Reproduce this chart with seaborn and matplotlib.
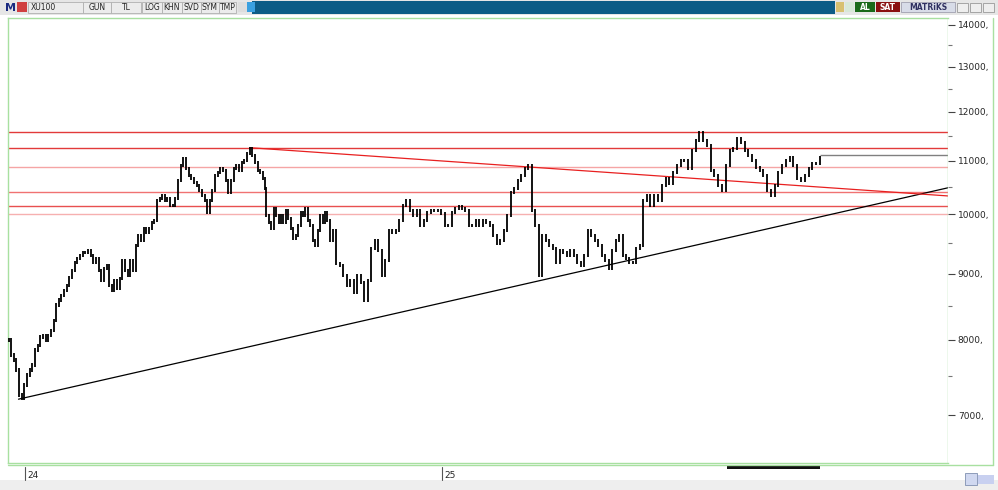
import numpy as np
import pandas as pd
import matplotlib
matplotlib.use("Agg")
import matplotlib.pyplot as plt
from matplotlib.patches import Rectangle
import seaborn as sns

# ---- data (XU100 closes) ----
seg1 = [7996, 7786, 7717, 7582, 7253, 7214, 7383, 7515, 7582, 7649, 7855, 7925, 8040, 8067, 7996, 8067,
        8139, 8285, 8509, 8585, 8661, 8738, 8816, 8942, 9054, 9183, 9249, 9298, 9347, 9347, 9381, 9298,
        9183, 9249, 9054, 8895, 9086, 9135, 8816, 8738, 8895, 8769, 8927, 9216, 9054, 8974, 9216, 9054,
        9465, 9634, 9549, 9755, 9686, 9755, 9859, 9894, 10252, 10288, 10343, 10252, 10288, 10161, 10161,
        10288, 10622, 10909, 11045, 10851, 10717, 10660, 10585, 10528, 10436, 10343, 10252, 10036, 10252,
        10436, 10717, 10775, 10851, 10813, 10622, 10399, 10622, 10851, 10909, 10813, 10967, 11005, 11144,
        11245, 11104, 10967, 10813, 10775, 10660, 10473]
seg2 = [9982, 9859, 9755, 10107, 9982, 9859, 9982, 9859, 10071, 9929, 9755, 9583, 9634, 9807, 10036,
        9982, 10107, 9894, 9807, 9549, 9465, 9720, 9982, 9859, 10036, 9894, 9549]
seg3 = [9720, 9166, 9135, 8974, 8816, 8895, 8707, 8974, 8863, 8585, 8895, 9415, 9549, 9381, 8974, 9216,
        9720, 9686, 9720, 9894, 10161, 10252, 10071, 9982, 10071, 9807, 9894, 10036, 10071, 10071, 10071,
        10018, 9807, 9807, 10036, 10107, 10143, 10107, 10071, 9807, 9807, 9894, 9807, 9894, 9859, 9807,
        9634, 9498, 9549, 9720, 9982, 10399, 10473, 10622, 10717, 10851, 10909, 10071, 9807, 8974, 9634,
        9549, 9465, 9415, 9183, 9381, 9347, 9298, 9381, 9298, 9183, 9135, 9298, 9720, 9634, 9549, 9465,
        9298, 9216, 9086, 9381, 9549, 9634, 9298, 9249, 9183, 9183, 9415, 9465]
seg4 = [10252, 10343, 10161, 10343, 10252, 10528, 10660, 10566, 10775, 10909, 11005, 11005, 10851, 11205,
        11404, 11567, 11404, 11303, 10813, 10717, 10528, 10436, 10909, 11205, 11245, 11446, 11364, 11205,
        11104, 11005, 10870, 10813, 10717, 10436, 10343, 10528, 10775, 10909, 11005, 11064, 10909, 10660,
        10622, 10717, 10851, 10948, 10948, 11064]
seg_days = [(-10, 144), (144.5, 182.6), (184.4, 368.4), (370.2, 476.2)]   # trading-day span of each segment

levels = [11581, 11257, 10883, 10398, 10143, 10000]
level_colors = ["#e23a3a", "#e23a3a", "#f5a5a5", "#f07272", "#e85050", "#f6b0b0"]
last_level = 11120
support = ([-4, 554], [7200, 10490])
resistance = ([134.7, 554], [11257, 10330])
yticks = [7000, 8000, 9000, 10000, 11000, 12000, 13000, 14000]
xlabels = {0: "24", 249.7: "25"}

closes, days = [], []
for seg, (a, b) in zip([seg1, seg2, seg3, seg4], seg_days):
    closes += seg
    days += list(np.linspace(a, b, len(seg)))
df = pd.DataFrame({"day": days, "close": closes})
df["prev"] = df["close"].shift(1).fillna(df["close"])

sns.set_style("white")
fig = plt.figure(figsize=(9.98, 4.90), dpi=100)
W, H = 998, 490
ax = fig.add_axes([8 / W, 1 - 463 / H, 940 / W, 445 / H])

ax.set_yscale("log")
ax.set_ylim(6428, 14175)
ax.set_xlim(-10.3, 553)

for v, c in zip(levels, level_colors):
    ax.axhline(v, color=c, lw=1.0, zorder=1)
ax.hlines(last_level, 476.2, 553, color="#808080", lw=1.0, zorder=1)

lo = np.minimum(df["close"], df["prev"]) * 0.997
hi = np.maximum(df["close"], df["prev"]) * 1.003
ax.vlines(df["day"], lo, hi, color="black", lw=1.3, zorder=3)

sns.lineplot(x=support[0], y=support[1], ax=ax, color="black", lw=0.9, zorder=2)
sns.lineplot(x=resistance[0], y=resistance[1], ax=ax, color="#e82020", lw=0.9, zorder=2)

ax.yaxis.tick_right()
ax.set_yticks(yticks)
ax.set_yticklabels([f"{t}," for t in yticks], fontsize=6.5)
ax.set_yticks([7500, 8500, 9500, 10500, 11500, 12500, 13500], minor=True)
ax.yaxis.set_minor_formatter(matplotlib.ticker.NullFormatter())
ax.tick_params(axis="y", which="major", length=5, width=0.8, color="#444444", pad=2, right=True)
ax.tick_params(axis="y", which="minor", length=3, width=0.8, color="#777777", right=True)
ax.set_xticks([])
for sp in ax.spines.values():
    sp.set_color("#a8e0a0")
    sp.set_linewidth(1.0)
ax.spines["right"].set_visible(False)
ax.axvline(553, color="#a8e0a0", lw=1)
ax.set_xlabel(""); ax.set_ylabel("")

for d, lab in xlabels.items():
    xf = (8 + (d + 10.3) / 563.3 * 940) / W
    fig.add_artist(plt.Line2D([xf, xf], [1 - 467 / H, 1 - 480 / H], color="#555555", lw=0.8))
    fig.text(xf + 2 / W, 1 - 475 / H, lab, fontsize=6.5, va="center", ha="left")

fig.add_artist(plt.Line2D([993 / W, 993 / W], [1 - 18 / H, 1 - 465 / H], color="#a8e0a0", lw=1))
fig.add_artist(plt.Line2D([8 / W, 993 / W], [1 - 465 / H, 1 - 465 / H], color="#a8e0a0", lw=1))

def rect(x0, y0, w, h, fc, ec="none"):
    fig.add_artist(Rectangle((x0 / W, 1 - (y0 + h) / H), w / W, h / H, fc=fc, ec=ec, lw=0.6,
                             transform=fig.transFigure))
rect(0, 0, 998, 15, "#e6e6e6")
rect(252, 1, 583, 13, "#0d5c86")
for x0, w, lab in [(28, 55, "XU100"), (83, 28, "GUN"), (111, 30, "TL"), (142, 20, "LOG"), (162, 20, "KHN"),
                   (182, 19, "SVD"), (201, 18, "SYM"), (219, 17, "TMP")]:
    rect(x0, 2, w, 11, "#ececec", "#b0b0b0")
    fig.text((x0 + (3 if lab == "XU100" else w / 2)) / W, 1 - 8 / H, lab, fontsize=5.5,
             ha="left" if lab == "XU100" else "center", va="center", color="#222222")
fig.text(5 / W, 1 - 8 / H, "M", fontsize=8, fontweight="bold", color="#1a2a80", va="center")
rect(17, 2, 10, 10, "#d04040")
rect(238, 2, 9, 10, "#dddddd"); rect(247, 2, 8, 10, "#3aa0e0")
rect(836, 2, 8, 10, "#d8c070"); rect(845, 2, 9, 10, "#d8e8d8")
rect(855, 2, 20, 10, "#1a6a1a"); fig.text(865 / W, 1 - 8 / H, "AL", fontsize=5.5, color="white", ha="center", va="center", fontweight="bold")
rect(876, 2, 24, 10, "#8a1010"); fig.text(888 / W, 1 - 8 / H, "SAT", fontsize=5.5, color="white", ha="center", va="center", fontweight="bold")
rect(901, 2, 54, 10, "#d8dce8", "#a0a0b0"); fig.text(928 / W, 1 - 8 / H, "MATRiKS", fontsize=5.5, color="#303060", ha="center", va="center", fontweight="bold")
for x0 in (957, 970, 983):
    rect(x0, 3, 11, 9, "#eeeeee", "#999999")

rect(0, 480, 998, 10, "#eeeeee")
rect(727, 466, 93, 3, "#111111")
rect(965, 473, 12, 12, "#d0d8f0", "#8090b0")
rect(978, 475, 16, 9, "#c8d0f0")

fig.savefig("out.png", dpi=100, facecolor="white")
